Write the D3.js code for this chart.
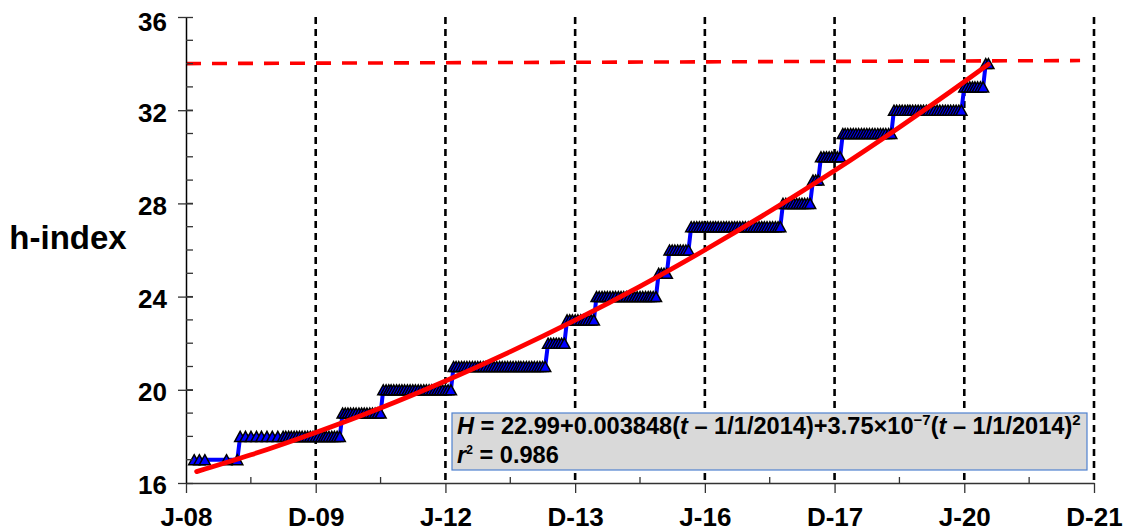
<!DOCTYPE html>
<html>
<head>
<meta charset="utf-8">
<script src="https://cdnjs.cloudflare.com/ajax/libs/d3/7.8.5/d3.min.js"></script>
<style>
  body { margin: 0; background: #fff; }
  text { font-family: Arial, "Liberation Sans", sans-serif; font-weight: bold; fill: #000; }
</style>
</head>
<body>
<svg id="chart" width="1125" height="531"></svg>
<script>
// x axis: Excel-style date axis, major unit 730.5 days from 1/1/2008
const tickLabels = ["J-08", "D-09", "J-12", "D-13", "J-16", "D-17", "J-20", "D-21"]
const yTicks = [16, 20, 24, 28, 32, 36]

// h-index read on the 1st and 16th of every month, one row per year (null = no record)
const h2008 = [null,null,null,17,null,17,null,17,null,null,null,null,null,null,null,17,null,null,null,17,18,null,18,null]
const h2009 = [18,null,18,null,18,null,18,null,18,null,18,null,18,18,18,18,18,18,18,18,18,18,18,18]
const h2010 = [18,18,18,18,18,18,18,18,18,18,19,19,19,19,19,19,19,19,19,19,19,19,19,19]
const h2011 = [19,20,20,20,20,20,20,20,20,20,20,20,20,20,20,20,20,20,20,20,20,20,20,20]
const h2012 = [20,20,20,21,21,21,21,21,21,21,21,21,21,21,21,21,21,21,21,21,21,21,21,21]
const h2013 = [21,21,21,21,21,21,21,21,21,21,21,21,21,21,22,22,22,22,22,22,22,23,23,23]
const h2014 = [23,23,23,23,23,23,23,23,24,24,24,24,24,24,24,24,24,24,24,24,24,24,24,24]
const h2015 = [24,24,24,24,24,24,24,25,25,25,25,26,26,26,26,26,26,26,26,27,27,27,27,27]
const h2016 = [27,27,27,27,27,27,27,27,27,27,27,27,27,27,27,27,27,27,27,27,27,27,27,27]
const h2017 = [27,27,27,27,27,28,28,28,28,28,28,28,28,28,28,28,29,29,29,30,30,30,30,30]
const h2018 = [30,30,30,31,31,31,31,31,31,31,31,31,31,31,31,31,31,31,31,31,31,31,32,32]
const h2019 = [32,32,32,32,32,32,32,32,32,32,32,32,32,32,32,32,32,32,32,32,32,32,32,32]
const h2020 = [33,33,33,33,33,33,33,33,34,34]
const hRows = [h2008, h2009, h2010, h2011, h2012, h2013, h2014, h2015, h2016, h2017, h2018, h2019, h2020]

// quadratic fit (red curve)
const fitDates = ["2008-03-01","2009-01-01","2010-01-01","2011-01-01","2012-01-01","2013-01-01","2014-01-01",
                  "2015-01-01","2016-01-01","2017-01-01","2018-01-01","2019-01-01","2020-01-01","2020-05-15"]
const fitValues = [16.49, 17.21, 18.17, 19.22, 20.38, 21.64, 22.99, 24.44, 26.00, 27.66, 29.41, 31.27, 33.22, 33.97]

// red dashed target line (ends)
const targetDates = ["2008-01-01", "2021-10-14"]
const targetValues = [34, 34.13]

const DAY = 86400000
const t0 = Date.UTC(2008, 0, 1)
const tickDates = tickLabels.map((d, i) => new Date(t0 + i * 730.5 * DAY))

const points = []
hRows.forEach((row, yi) => {
    row.forEach((h, j) => {
        if (h == null) return
        points.push({ date: new Date(Date.UTC(2008 + yi, Math.floor(j / 2), j % 2 ? 16 : 1)), h: h })
    })
})
const fit = fitDates.map((d, i) => ({ date: new Date(d + "T00:00:00Z"), h: fitValues[i] }))
const target = targetDates.map((d, i) => ({ date: new Date(d + "T00:00:00Z"), h: targetValues[i] }))

const svg = d3.select("#chart")
const plotL = 186, plotR = 1094, plotT = 17, plotB = 483

const x = d3.scaleUtc()
        .domain([tickDates[0], tickDates[tickDates.length - 1]])
        .range([plotL, plotR])
const y = d3.scaleLinear()
        .domain([16, 36])
        .range([plotB, plotT])

// red dashed target
svg.append("path")
        .datum(target)
        .attr("fill", "none")
        .attr("stroke", "#ff0000")
        .attr("stroke-width", 3.6)
        .attr("stroke-dasharray", "15,11")
        .attr("d", d3.line().x(d => x(d.date)).y(d => y(d.h)))

// vertical dashed grid at major ticks
svg.append("g")
        .selectAll("line")
        .data(tickDates.slice(1))
        .join("line")
        .attr("x1", d => x(d)).attr("x2", d => x(d))
        .attr("y1", y(36)).attr("y2", y(16))
        .attr("stroke", "#000")
        .attr("stroke-width", 2.6)
        .attr("stroke-dasharray", "7,5")

// h-index step line
svg.append("path")
        .datum(points)
        .attr("fill", "none")
        .attr("stroke", "#0000ff")
        .attr("stroke-width", 4)
        .attr("stroke-linejoin", "round")
        .attr("d", d3.line().x(d => x(d.date)).y(d => y(d.h)))

svg.append("g")
        .selectAll("path")
        .data(points)
        .join("path")
        .attr("d", "M0,-5L5.5,5L-5.5,5Z")
        .attr("transform", d => `translate(${x(d.date)},${y(d.h)})`)
        .attr("fill", "#0000ff")
        .attr("stroke", "#000")
        .attr("stroke-width", 1.5)

// fit curve
svg.append("path")
        .datum(fit)
        .attr("fill", "none")
        .attr("stroke", "#ff0000")
        .attr("stroke-width", 4.8)
        .attr("stroke-linecap", "round")
        .attr("d", d3.line().curve(d3.curveMonotoneX).x(d => x(d.date)).y(d => y(d.h)))

// axes
const axisColor = "#333"
const xAxis = svg.append("g")
        .attr("transform", `translate(0,${plotB})`)
        .call(d3.axisBottom(x).tickValues(tickDates).tickFormat((d, i) => tickLabels[i]).tickSize(10).tickSizeOuter(0).tickPadding(15))
xAxis.select(".domain").attr("stroke", axisColor).attr("stroke-width", 1.5)
xAxis.selectAll(".tick line").attr("stroke", axisColor).attr("stroke-width", 1.3)
xAxis.selectAll("text").style("font-size", "26px").attr("fill", "#000")

// minor x ticks (inside)
svg.append("g")
        .selectAll("line")
        .data(tickDates.slice(1).map((d, i) => new Date((+d + +tickDates[i]) / 2)))
        .join("line")
        .attr("x1", d => x(d)).attr("x2", d => x(d))
        .attr("y1", plotB).attr("y2", plotB - 6)
        .attr("stroke", axisColor).attr("stroke-width", 1.3)

const yAxis = svg.append("g")
        .attr("transform", `translate(${plotL},0)`)
        .call(d3.axisLeft(y).tickValues(yTicks).tickSizeInner(8).tickSizeOuter(0).tickPadding(11))
yAxis.select(".domain").attr("stroke", "#000").attr("stroke-width", 1.5)
yAxis.selectAll(".tick line").attr("stroke", axisColor).attr("stroke-width", 1.3).attr("x2", 7).attr("x1", -8)
yAxis.selectAll("text").style("font-size", "26px").attr("fill", "#000")
        .attr("dy", d => d === 36 ? "0.5em" : "0.42em")

// minor y ticks every unit (inside)
svg.append("g")
        .selectAll("line")
        .data(d3.range(17, 36))
        .join("line")
        .attr("x1", plotL).attr("x2", plotL + 7)
        .attr("y1", d => y(d)).attr("y2", d => y(d))
        .attr("stroke", axisColor).attr("stroke-width", 1.3)

svg.append("text")
        .attr("x", 68)
        .attr("y", 249)
        .attr("text-anchor", "middle")
        .style("font-size", "33px")
        .text("h-index")

// equation box
const box = svg.append("g")
box.append("rect")
        .attr("x", 452).attr("y", 413)
        .attr("width", 635).attr("height", 57)
        .attr("fill", "#d9d9d9")
        .attr("stroke", "#4f81cf")
        .attr("stroke-width", 1.2)

const eq = box.append("text").attr("x", 457).attr("y", 434).style("font-size", "23.6px")
const parts = [
    ["H", "i"], [" = 22.99+0.003848(", ""], ["t", "i"], [" \u2013 1/1/2014)+3.75\u00d710", ""],
    ["\u22127", "sup"], ["(", "base"], ["t", "i"], [" \u2013 1/1/2014)", ""], ["2", "sup"]
]
parts.forEach(([s, k]) => {
    const ts = eq.append("tspan").text(s)
    if (k === "i") ts.style("font-style", "italic")
    if (k === "sup") ts.attr("dy", -9).style("font-size", "15px")
    if (k === "base") ts.attr("dy", 9)
})

const r2 = box.append("text").attr("x", 457).attr("y", 463).style("font-size", "23.6px")
r2.append("tspan").text("r").style("font-style", "italic")
r2.append("tspan").text("2").attr("dy", -9).style("font-size", "12px")
r2.append("tspan").text(" = 0.986").attr("dy", 9)
</script>
</body>
</html>
